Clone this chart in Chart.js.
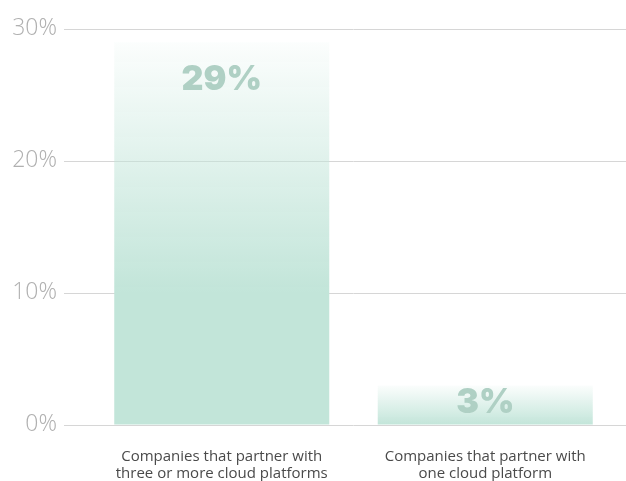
<!DOCTYPE html>
<html lang="en">
<head>
    <meta charset="UTF-8">
    <title>Cloud platform partnerships</title>
    <script src="https://cdn.jsdelivr.net/npm/chart.js"></script>
    <style>
        html, body {
            margin: 0;
            padding: 0;
            background: #fff;
        }
        .wrap {
            width: 626px;
            height: 481px;
        }
    </style>
</head>
<body>
    <div class="wrap">
        <canvas id="shareChart"></canvas>
    </div>

    <script>
        // Chart data
        const categories = [
            ['Companies that partner with', 'three or more cloud platforms'],
            ['Companies that partner with', 'one cloud platform']
        ];
        const shareValues = [29, 3];
        const valueLabels = ['29%', '3%'];
        const yTicks = [0, 10, 20, 30];

        const barGreen = 'rgb(194, 229, 217)';
        const gridGrey = '#d6d6d6';

        // Vertical fade per bar: light at the top, solid green further down
        function barFill(context) {
            const chart = context.chart;
            if (!chart.chartArea) return barGreen;
            const y = chart.scales.y;
            const top = y.getPixelForValue(shareValues[context.dataIndex]);
            const base = y.getPixelForValue(0);
            const end = Math.min(base, top + 250);
            const g = chart.ctx.createLinearGradient(0, top, 0, end);
            g.addColorStop(0, 'rgba(194, 229, 217, 0.06)');
            g.addColorStop(1, barGreen);
            return g;
        }

        // Value text written inside the top of each bar
        const valueText = {
            id: 'valueText',
            afterDatasetsDraw(chart) {
                const ctx = chart.ctx;
                const meta = chart.getDatasetMeta(0);
                ctx.save();
                ctx.font = '900 34px Inter, Lato, sans-serif';
                ctx.fillStyle = '#afd0c4';
                ctx.textAlign = 'center';
                ctx.textBaseline = 'middle';
                meta.data.forEach((bar, i) => {
                    const y = Math.min(bar.y + 38, bar.base - 22);
                    ctx.fillText(valueLabels[i], bar.x, y);
                });
                ctx.restore();
            }
        };

        const ctx = document.getElementById('shareChart').getContext('2d');
        new Chart(ctx, {
            type: 'bar',
            data: {
                labels: categories,
                datasets: [{
                    data: shareValues,
                    backgroundColor: barFill,
                    borderWidth: 0,
                    categoryPercentage: 1,
                    barPercentage: 0.816
                }]
            },
            options: {
                responsive: true,
                maintainAspectRatio: false,
                animation: false,
                layout: { padding: { top: 29, left: 0, right: 0, bottom: 0 } },
                plugins: {
                    legend: { display: false },
                    tooltip: { enabled: false }
                },
                scales: {
                    x: {
                        grid: { display: false, drawTicks: false },
                        border: { display: false },
                        ticks: {
                            color: '#4a4a4a',
                            padding: 23,
                            maxRotation: 0,
                            font: { family: '"Open Sans"', size: 15, lineHeight: 1.15 }
                        },
                        afterFit(scale) { scale.height = 56; }
                    },
                    y: {
                        min: 0,
                        max: 30,
                        afterBuildTicks(scale) {
                            scale.ticks = yTicks.map(v => ({ value: v }));
                        },
                        grid: { color: gridGrey, lineWidth: 1, tickLength: 26 },
                        border: { display: false },
                        ticks: {
                            color: '#b0b0b0',
                            padding: 7,
                            font: { family: '"Open Sans Light", "Open Sans"', size: 23, weight: 300 },
                            callback: v => v + '%'
                        },
                        afterFit(scale) { scale.width = 90; }
                    },
                    // short stubs carrying the grid lines to the right edge
                    yRight: {
                        position: 'right',
                        min: 0,
                        max: 30,
                        afterBuildTicks(scale) {
                            scale.ticks = yTicks.map(v => ({ value: v }));
                        },
                        grid: { color: gridGrey, lineWidth: 1, tickLength: 9, drawOnChartArea: false },
                        border: { display: false },
                        ticks: { display: false },
                        afterFit(scale) { scale.width = 9; }
                    }
                }
            },
            plugins: [valueText]
        });
    </script>
</body>
</html>
